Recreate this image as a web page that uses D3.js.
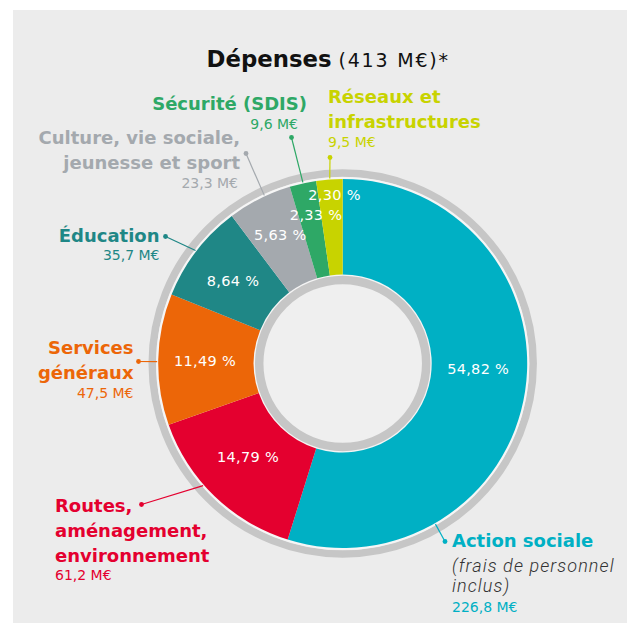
<!DOCTYPE html>
<html>
<head>
<meta charset="utf-8">
<script src="https://cdn.jsdelivr.net/npm/d3@7"></script>
<style>
  body { margin: 0; background: #fff; }
  svg text { font-family: "DejaVu Sans", sans-serif; }
</style>
</head>
<body>
<div id="chart"></div>
<script>
// data, clockwise from 12 o'clock
const categories = [
    ["Action sociale"],
    ["Routes,", "aménagement,", "environnement"],
    ["Services", "généraux"],
    ["Éducation"],
    ["Culture, vie sociale,", "jeunesse et sport"],
    ["Sécurité (SDIS)"],
    ["Réseaux et", "infrastructures"]
];
const shares = [54.82, 14.79, 11.49, 8.64, 5.63, 2.33, 2.30];
const amounts = [226.8, 61.2, 47.5, 35.7, 23.3, 9.6, 9.5];
const notes = [["(frais de personnel", "inclus)"], [], [], [], [], [], []];
const colors = ["#00b0c4", "#e4002f", "#ec6608", "#1f8786", "#a4a9ae", "#2ea866", "#c8d300"];
const titleMain = "Dépenses";
const titleSub = "(413 M€)*";

// label placement (layout only)
const labelLayout = [
    {anchor: "start", x: 452, y: 547.3, vx: 452, dot: [445, 541.5], angle: 150},
    {anchor: "start", x: 55, y: 511.7, vx: 55, dot: [141.5, 504.5], angle: 228.8},
    {anchor: "end", x: 133.5, y: 354, vx: 133.5, dot: [138.5, 361.5], angle: 270.6},
    {anchor: "end", x: 159.5, y: 241.7, vx: 159.5, dot: [165.5, 236.5], angle: 307.5},
    {anchor: "end", x: 240, y: 144, vx: 238, dot: [246, 153.5], angle: 335},
    {anchor: "end", x: 307, y: 110, vx: 298, dot: [291.5, 137.5], angle: 347.6},
    {anchor: "start", x: 328, y: 103.3, vx: 328, dot: [330, 157.5], angle: 356}
];
// percent label radius and nudge (layout only)
const pctLayout = [
    {r: 135, dx: 2, dy: -15},
    {r: 135, dx: -1, dy: -3.4},
    {r: 135, dx: -2.7, dy: 0},
    {r: 135, dx: -2.6, dy: -1},
    {r: 143, dx: 2, dy: -1},
    {r: 151, dx: 6, dy: -1},
    {r: 169, dx: 4, dy: 0}
];

const width = 627, height = 623;
const cx = 342.7, cy = 363.5;
const rOuter = 184.5, rInner = 89;

const fr = d3.formatLocale({decimal: ",", thousands: " ", grouping: [3], currency: ["", "€"]});
const fmtPct = fr.format(".2f");
const fmtAmt = fr.format(".1f");

const svg = d3.select("#chart")
    .append("svg")
    .attr("width", width)
    .attr("height", height);

svg.append("rect")
    .attr("x", 13).attr("y", 10)
    .attr("width", width - 13).attr("height", height - 10)
    .attr("fill", "#ececec");

// title
const title = svg.append("text")
    .attr("x", 206.5)
    .attr("y", 67.3)
    .attr("fill", "#111");
title.append("tspan")
    .attr("font-weight", 700)
    .style("font-size", "22.8px")
    .text(titleMain);
title.append("tspan")
    .attr("dx", 7)
    .attr("font-weight", 400)
    .style("font-size", "19px")
    .style("letter-spacing", "1.8px")
    .text(titleSub);

const g = svg.append("g")
    .attr("transform", `translate(${cx}, ${cy})`);

// rings
g.append("circle").attr("r", 190.5).attr("fill", "none")
    .attr("stroke", "#c6c6c6").attr("stroke-width", 7.5);
g.append("circle").attr("r", rOuter + 2).attr("fill", "#f6f6f6");
g.append("circle").attr("r", rInner).attr("fill", "#f4f4f4");
g.append("circle").attr("r", 83.5).attr("fill", "#efefef")
    .attr("stroke", "#c6c6c6").attr("stroke-width", 8.5);

const data = shares.map((s, i) => ({i: i, share: s, amount: amounts[i]}));
const pie = d3.pie().sort(null).value(d => d.share);
const arcs = pie(data);
const arc = d3.arc().innerRadius(rInner).outerRadius(rOuter);

g.selectAll("path.slice")
    .data(arcs)
    .enter()
    .append("path")
    .attr("class", "slice")
    .attr("d", arc)
    .attr("fill", d => colors[d.data.i]);

// percentages
g.selectAll("text.pct")
    .data(arcs)
    .enter()
    .append("text")
    .attr("class", "pct")
    .attr("transform", d => {
        const p = pctLayout[d.data.i];
        const a = (d.startAngle + d.endAngle) / 2;
        const x = Math.sin(a) * p.r + p.dx;
        const y = -Math.cos(a) * p.r + p.dy;
        return `translate(${x}, ${y})`;
    })
    .attr("text-anchor", "middle")
    .attr("dy", "0.36em")
    .attr("fill", "#fff")
    .style("font-size", "14.5px")
    .style("letter-spacing", "0.3px")
    .text(d => fmtPct(d.data.share) + " %");

// leader lines and outer labels
const lineH = 25;
arcs.forEach(d => {
    const i = d.data.i;
    const L = labelLayout[i];
    const a = L.angle * Math.PI / 180;
    const ex = cx + Math.sin(a) * (rOuter + 1);
    const ey = cy - Math.cos(a) * (rOuter + 1);
    svg.append("line")
        .attr("x1", L.dot[0]).attr("y1", L.dot[1])
        .attr("x2", ex).attr("y2", ey)
        .attr("stroke", colors[i])
        .attr("stroke-width", 1.2);
    svg.append("circle")
        .attr("cx", L.dot[0]).attr("cy", L.dot[1])
        .attr("r", 2.4)
        .attr("fill", colors[i]);

    let y = L.y;
    categories[i].forEach((t, k) => {
        svg.append("text")
            .attr("x", L.x).attr("y", y)
            .attr("text-anchor", L.anchor)
            .attr("fill", colors[i])
            .attr("font-weight", 700)
            .style("font-size", "18px")
            .text(t);
        y += lineH;
    });
    y -= lineH;
    notes[i].forEach((t, k) => {
        y += k == 0 ? 25 : 19.5;
        svg.append("text")
            .attr("x", L.x).attr("y", y)
            .attr("text-anchor", L.anchor)
            .attr("fill", "#333")
            .attr("font-style", "italic")
            .style("font-family", "Roboto, sans-serif")
            .attr("font-weight", 300)
            .style("font-size", "18px")
            .style("letter-spacing", "1.1px")
            .text(t);
    });
    svg.append("text")
        .attr("x", L.vx).attr("y", y + (notes[i].length ? 20 : 18.7))
        .attr("text-anchor", L.anchor)
        .attr("fill", colors[i])
        .style("font-size", "14px")
        .text(fmtAmt(d.data.amount) + " M€");
});
</script>
</body>
</html>
